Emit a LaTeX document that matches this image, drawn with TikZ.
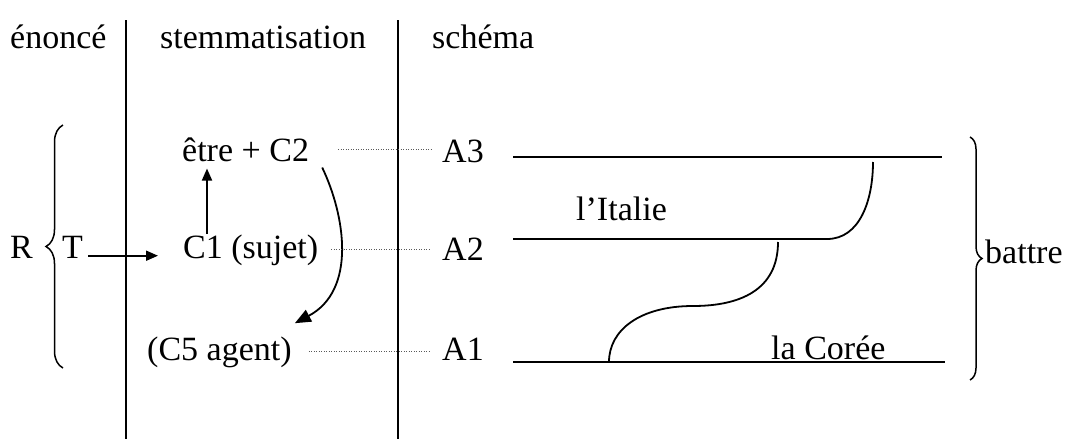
\documentclass[tikz,border=0pt]{standalone}
\usepackage{fontspec}
\setmainfont{Liberation Serif}
\usetikzlibrary{arrows.meta,decorations.pathreplacing}

\begin{document}
\begin{tikzpicture}[x=1pt, y=-1pt,
	txt/.style={anchor=base west, inner sep=0pt, font=\fontsize{34}{40}\selectfont},
	arr/.style={line width=1.8pt, -{Triangle[length=12pt, width=10pt]}},
	arrgros/.style={line width=1.8pt, -{Triangle[length=16pt, width=13pt]}},
	pointille/.style={black!65, line width=1pt, dash pattern=on 1pt off 1.5pt},
	trait/.style={line width=1.8pt},
	accolade/.style={line width=1.5pt, decorate, decoration={brace, amplitude=#1}}]
	\useasboundingbox (0,0) rectangle (1069,439);
	\node[txt] (enonce) at (10,48) {énoncé};
	\node[txt] (stemma) at (160,48) {stemmatisation};
	\node[txt] (schema) at (432,48) {schéma};
	\draw[line width=2.8pt] (126,20) -- (126,439);
	\draw[line width=2.8pt] (398,20) -- (398,439);

	\node[txt] (R) at (10,258) {R};
	\node[txt] (T) at (62,258) {T};
	\node[txt] (etre) at (182,161) {être + C2};
	\node[txt] (C1) at (183,258) {C1 (sujet)};
	\node[txt] (C5) at (147,360) {(C5 agent)};
	\node[txt] (A3) at (442,162) {A3};
	\node[txt] (A2) at (442,260) {A2};
	\node[txt] (A1) at (442,360) {A1};
	\node[txt] (italie) at (576,220) {l’Italie};
	\node[txt] (coree) at (771,359) {la Corée};
	\node[txt] (battre) at (985,263) {battre};

	\draw[accolade=17pt] (63,368) -- (63,125);
	\draw[accolade=12pt] (970,137) -- (970,380);

	\draw[arr, shorten <=5pt, shorten >=25pt] (T.mid east) -- (T.mid east -| C1.west);
	\draw[arr, shorten >=7pt] ([xshift=24pt]C1.north west) -- ([xshift=24pt]C1.north west |- etre.south);
	\draw[arrgros] ([shift={(13,6)}]etre.south east) .. controls +(23,48) and +(62,-33) .. ([shift={(3,-13)}]C5.north east);

	\draw[pointille, shorten <=29pt, shorten >=10pt] (etre.east) -- (etre.east -| A3.west);
	\draw[pointille, shorten <=13pt, shorten >=12pt] (C1.east) -- (C1.east -| A2.west);
	\draw[pointille, shorten <=17pt, shorten >=12pt] (C5.east) -- (C5.east -| A1.west);

	\draw[trait] (513,157) -- (942,157);
	\draw[trait] (513,239) -- (827,239) .. controls (860,239) and (873,200) .. (873,162);
	\draw[trait] (778,242) .. controls (778,290) and (740,306) .. (693,306) .. controls (640,306) and (609,330) .. (609,362);
	\draw[trait] (513,362) -- (945,362);
\end{tikzpicture}
\end{document}
